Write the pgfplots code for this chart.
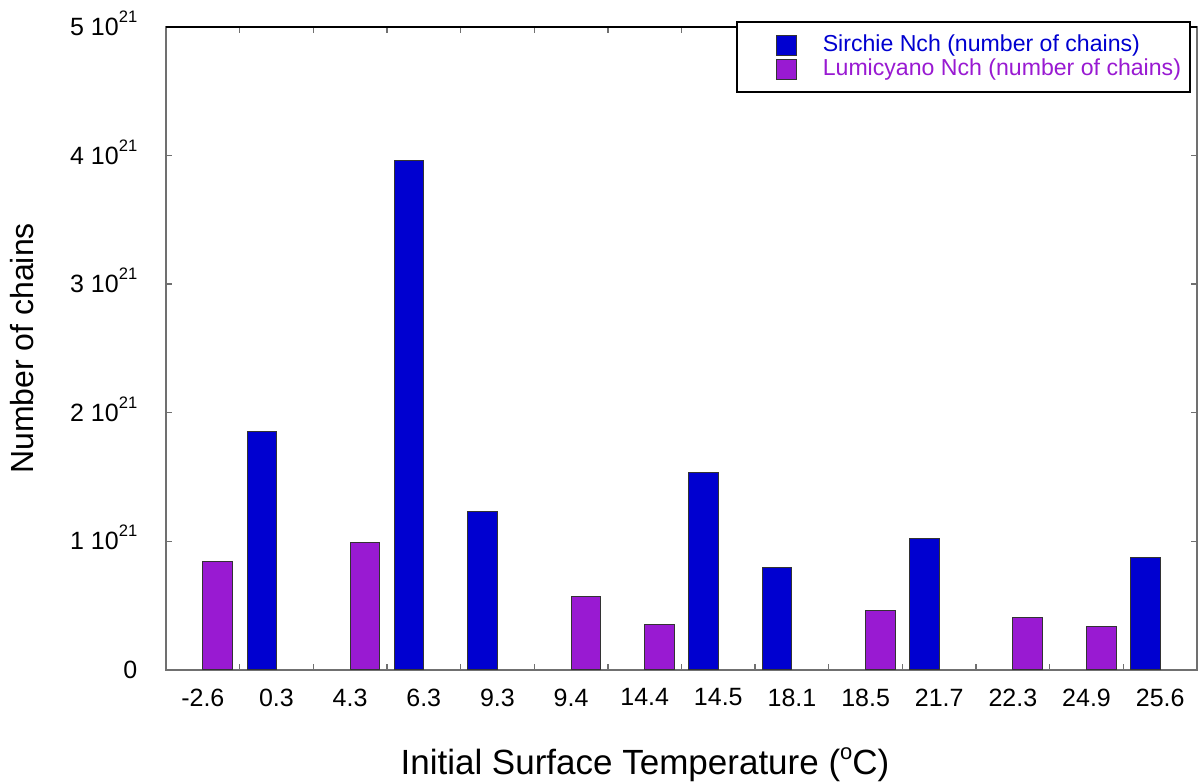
\documentclass[border=0pt]{standalone}
\usepackage{pgfplots}
\pgfplotsset{compat=1.18}
\usepackage{fontspec}
\setmainfont{Liberation Sans}

\definecolor{sirchie}{RGB}{0,0,208}
\definecolor{lumi}{RGB}{153,26,210}
\definecolor{axgray}{RGB}{112,112,112}

% tick label of the form "n 10^21"
\newcommand{\sci}[1]{#1 10\smash{\raisebox{6.5pt}{\fontsize{8.3}{9}\selectfont 21}}}

% number of chains, in units of 10^21, at category index x
\pgfplotstableread{
x   y
1   1.858
3   3.960
4   1.236
7   1.537
8   0.800
10  1.019
13  0.876
}\sirchie
\pgfplotstableread{
x   y
0   0.840
2   0.990
5   0.570
6   0.355
9   0.459
11  0.407
12  0.337
}\lumicyano

\begin{document}
\fontsize{12.5}{15}\selectfont
\begin{tikzpicture}
\begin{axis}[
  scale only axis,
  width=515.5pt, height=321.5pt,
  xmin=-0.5, xmax=13.5,
  ymin=0, ymax=5,
  axis line style={axgray, line width=0.75pt},
  tick align=inside,
  major tick length=0pt,
  minor tick length=3pt,
  every tick/.style={axgray, line width=0.7pt},
  xtick={0,...,13},
  xticklabels={-2.6,0.3,4.3,6.3,9.3,9.4,14.4,14.5,18.1,18.5,21.7,22.3,24.9,25.6},
  minor xtick={0.5,1.5,...,12.5},
  ytick={0,...,5},
  yticklabels={0,\sci1,\sci2,\sci3,\sci4,\sci5},
  minor ytick={0,...,5},
  xticklabel style={yshift=-5pt},
  yticklabel style={xshift=-10pt},
  xlabel={Initial Surface Temperature (\raisebox{7.5pt}{\fontsize{11}{12}\selectfont o}C)},
  xlabel style={at={(axis description cs:0.4646,-0.1477)}, anchor=center,
    font=\fontsize{17.5}{20}\selectfont},
  ylabel={Number of chains},
  ylabel style={at={(axis description cs:-0.1397,0.5)}, anchor=center,
    font=\fontsize{16}{19}\selectfont},
  legend style={
    at={(0.9942,1.0093)}, anchor=north east,
    draw=black, line width=1pt, fill=white,
    font=\fontsize{11.55}{14}\selectfont,
    inner xsep=4pt, inner ysep=5.5pt,
    row sep=0pt,
    nodes={inner sep=0.5pt, text height=8.5pt, text depth=2.5pt},
    /tikz/every odd column/.append style={column sep=12.5pt},
  },
  legend cell align=left,
]
\addplot[ybar, bar width=0.4, bar shift=-0.2, fill=sirchie, draw=black!80, line width=0.5pt,
  legend image code/.code={\path (0pt,0pt); \draw[fill=sirchie, draw=black!80, line width=0.5pt] (15.5pt,-5pt) rectangle (25.5pt,5pt);}]
  table[x=x, y=y] {\sirchie};
\addlegendentry{\textcolor{sirchie}{Sirchie Nch (number of chains)}}
\addplot[ybar, bar width=0.4, bar shift=0.2, fill=lumi, draw=black!80, line width=0.5pt,
  legend image code/.code={\path (0pt,0pt); \draw[fill=lumi, draw=black!80, line width=0.5pt] (15.5pt,-5pt) rectangle (25.5pt,5pt);}]
  table[x=x, y=y] {\lumicyano};
\addlegendentry{\textcolor{lumi}{Lumicyano Nch (number of chains)}}
\draw[black, line width=0.75pt] (rel axis cs:0,1) -- (rel axis cs:1,1);
\end{axis}
\pgfresetboundingbox
\path[use as bounding box] ([xshift=-83pt,yshift=-57pt]current axis.south west)
  rectangle ([xshift=0.5pt,yshift=13.5pt]current axis.north east);
\end{tikzpicture}
\end{document}
